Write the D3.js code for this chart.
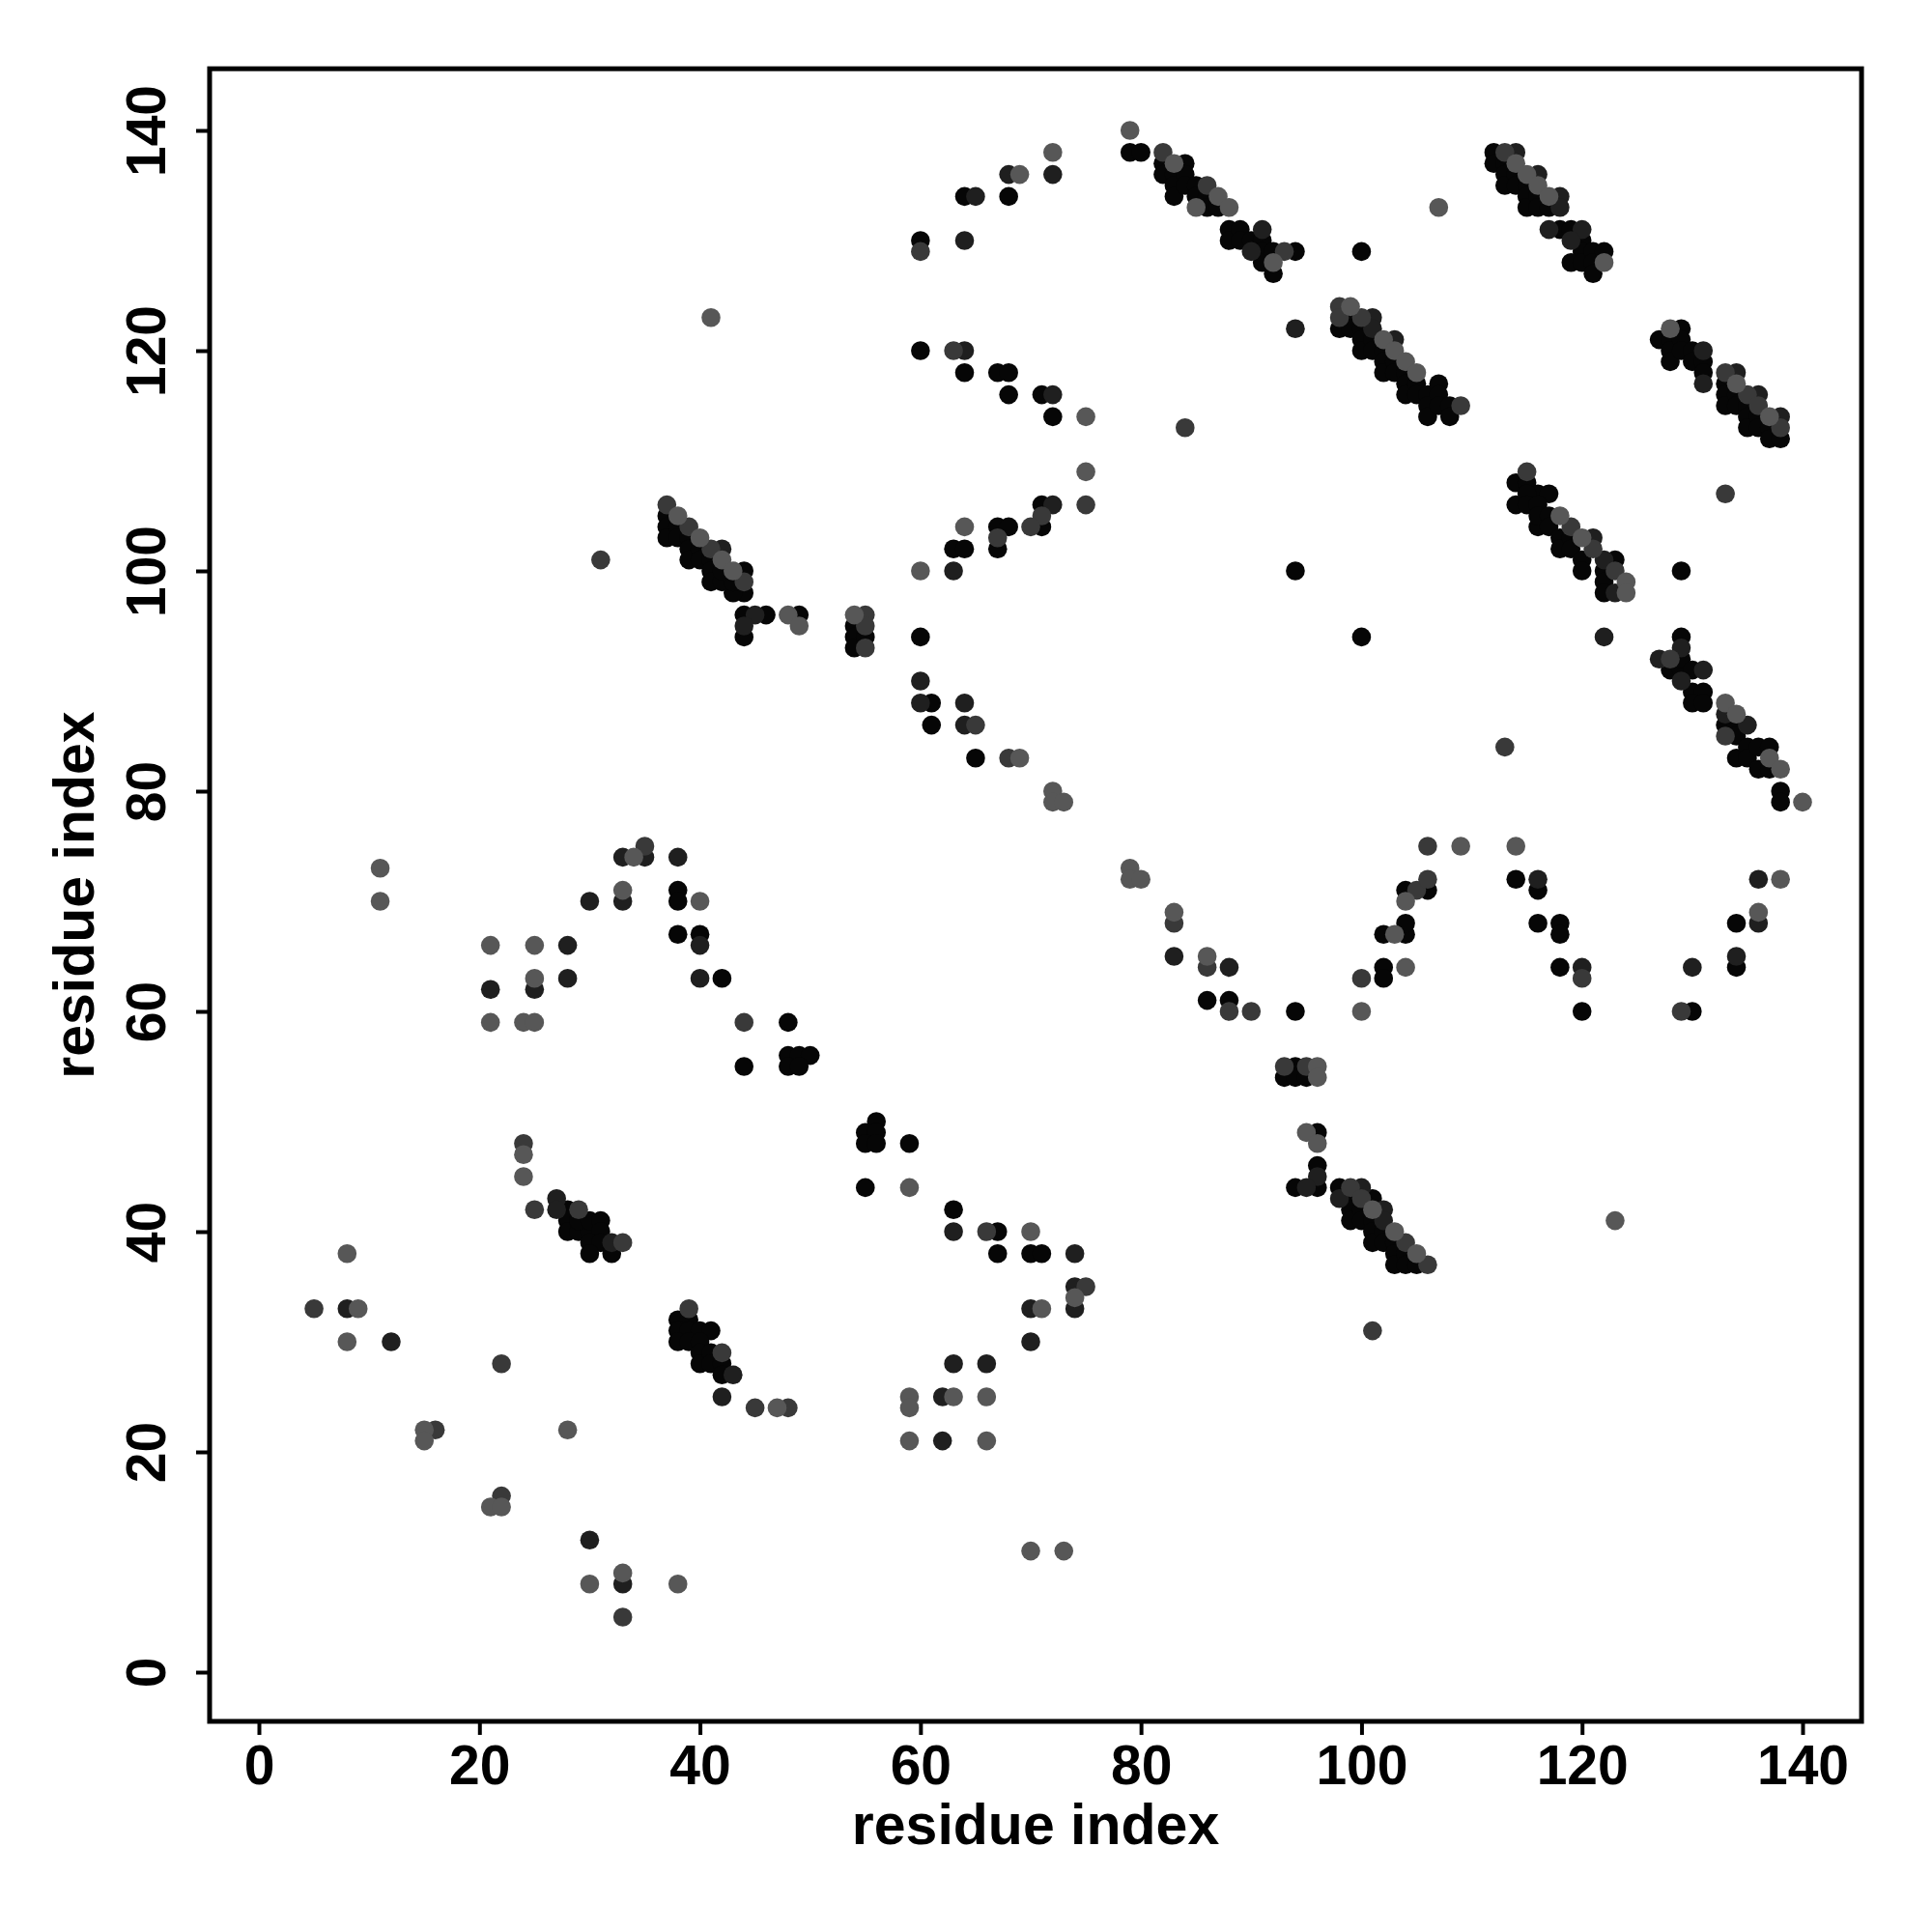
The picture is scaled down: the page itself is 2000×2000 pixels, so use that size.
<!DOCTYPE html>
<html>
<head>
<meta charset="utf-8">
<script src="https://cdn.jsdelivr.net/npm/d3@7"></script>
<style>
html,body{margin:0;padding:0;background:#fff;}
svg{display:block;}
text{font-family:"Liberation Sans","Helvetica","Arial",sans-serif;font-weight:bold;fill:#000;}
</style>
</head>
<body>
<svg id="chart" width="2000" height="2000"></svg>
<script>
// tick values
const xTicks = [0, 20, 40, 60, 80, 100, 120, 140];
const yTicks = [0, 20, 40, 60, 80, 100, 120, 140];
const xLabel = "residue index";
const yLabel = "residue index";

// contact points [i, j] grouped by shade (darkest first)
const shadeBlack = [
 [28,42],[28,41],[28,40],[29,40],[30,40],[29,41],[30,41],[31,41],[31,40],[30,39],[31,39],[30,38],[32,38],
 [56,50],[55,49],[56,49],[55,48],[56,48],[59,48],[55,44],[63,42],[67,40],[67,38],[70,38],[71,38],
 [38,32],[39,32],[38,31],[39,31],[40,31],[41,31],[38,30],[39,30],[40,30],[40,29],[40,28],[41,29],[41,28],[42,28],[42,27],
 [38,71],[38,70],[38,67],[40,67],[42,63],[48,59],[44,55],[48,56],[49,56],[50,56],[48,55],[49,55],
 [37,105],[37,104],[37,103],[38,104],[38,103],[39,103],[39,102],[39,101],[40,102],[40,101],[41,101],[41,100],[41,99],
 [44,100],[44,98],[43,98],[42,99],[43,99],[42,100],[44,96],[46,96],[44,94],[49,96],[54,95],[54,94],[54,93],[55,94],
 [79,138],[80,138],[68,134],[64,134],[60,130],[60,120],[64,118],[67,118],[68,118],[68,116],[71,116],[72,114],[71,106],
 [71,104],[67,104],[68,104],[67,102],[63,102],[64,102],[60,94],[61,88],[61,86],[65,83],
 [84,137],[82,137],[82,136],[83,136],[83,135],[83,134],[84,136],[84,135],[85,135],[85,134],[86,134],[86,133],[87,133],
 [88,131],[88,130],[89,131],[89,130],[90,130],[91,130],[91,129],[91,128],[92,129],[92,127],[94,129],
 [86,61],[88,61],[94,60],[93,54],[94,55],[94,54],[95,54],[102,64],[102,63],[102,67],[104,67],[104,68],[104,71],[106,71],
 [96,49],[96,46],[94,44],[96,44],[98,44],[99,43],[99,42],[99,41],[100,42],[100,41],[101,43],[101,41],[101,40],[101,39],
 [102,40],[102,39],[103,39],[103,38],[103,37],[104,38],[104,37],[105,37],
 [98,122],[99,123],[99,122],[100,122],[100,121],[100,120],[101,121],[101,120],[102,120],[102,119],[102,118],[103,119],
 [103,118],[104,118],[104,117],[104,116],[105,117],[105,116],[106,116],[106,115],[106,114],[107,117],[107,116],[107,115],[108,115],[108,114],
 [112,138],[112,137],[113,137],[113,136],[113,135],[114,136],[114,135],[115,135],[115,134],[115,133],[116,134],[116,133],[117,133],
 [118,131],[119,131],[120,130],[120,129],[119,128],[120,128],[121,129],[121,128],[121,127],[122,129],
 [127,121],[129,122],[128,121],[128,120],[128,119],[129,121],[129,120],[130,120],[130,119],[131,119],[131,118],[133,117],
 [133,116],[133,115],[134,116],[134,115],[135,115],[135,114],[135,113],[136,114],[136,113],[137,113],[137,112],[138,112],
 [114,108],[115,108],[114,106],[116,107],[117,107],[115,107],[115,106],[116,106],[116,104],[116,105],[117,105],[117,104],
 [118,103],[118,102],[119,103],[119,102],[120,101],[120,100],[123,101],[122,100],[122,99],[122,98],[129,100],[129,94],
 [128,91],[129,91],[129,92],[130,91],[130,89],[131,89],[130,88],[131,88],[133,86],[134,86],[134,85],[134,83],[135,84],
 [135,83],[136,84],[137,84],[136,82],[137,82],[138,80],[138,79],[114,72],[116,71],[116,68],[118,68],[118,67],[118,64],
 [120,60],[130,60],[134,68],[134,64],[94,100],[100,129],[100,94]
];
const shadeDark = [
 [27,43],[27,42],[32,39],[8,33],[12,30],[30,12],[33,8],
 [63,40],[74,38],[74,35],[74,33],[70,33],[70,30],[63,28],[66,28],[62,25],[62,21],[43,27],[42,25],
 [28,66],[21,62],[25,62],[28,63],[30,70],[33,74],[35,74],[33,70],[38,74],[40,66],[40,63],
 [42,102],[45,96],[44,95],
 [72,136],[68,136],[65,134],[64,130],[64,120],[72,116],[72,106],[63,100],[60,90],[60,88],[64,88],[64,86],
 [90,129],[91,131],[94,122],
 [83,65],[88,64],
 [96,45],[95,44],[98,43],[100,44],[102,42],[102,41],
 [101,123],[101,122],[103,121],
 [114,138],[116,136],[118,134],[118,133],[117,131],[120,131],[119,130],
 [131,120],[131,117],[134,118],[136,116],[138,114],
 [121,103],[122,101],[123,98],[122,94],[129,93],[127,92],[129,90],[131,91],[133,87],[135,86],[116,72],[120,64],
 [130,64],[134,65],[136,72],[136,68]
];
const shadeMid = [
 [24,48],[25,42],[29,42],[33,39],[5,33],[22,28],[16,22],[22,16],[33,5],
 [66,40],[75,35],[39,33],[42,29],[45,24],[48,24],
 [35,75],[44,59],
 [31,101],[37,106],[39,104],[41,102],[44,99],[55,96],[55,95],[55,93],
 [60,129],[63,120],[75,106],[71,105],[70,104],[67,103],[65,86],[68,83],
 [82,138],[86,135],[93,129],
 [83,68],[86,64],[88,60],[90,60],[93,55],[95,55],[100,63],[105,71],[106,72],[106,75],
 [99,44],[100,43],[104,39],[106,37],[101,31],
 [98,124],[98,123],[100,123],[109,115],
 [113,138],
 [133,118],[135,116],[136,115],[138,113],[133,107],
 [115,109],[119,104],[121,102],[123,100],[128,92],[133,85],[113,84],[120,63],[129,60],
 [84,113]
];
const shadeLight = [
 [24,47],[24,45],[8,38],[9,33],[8,30],[15,22],[15,21],[28,22],[21,15],[22,15],[30,8],[33,9],[38,8],
 [59,44],[70,40],[74,34],[71,33],[59,25],[59,24],[63,25],[66,25],[59,21],[66,21],[70,11],[73,11],[47,24],
 [11,73],[11,70],[21,66],[25,66],[25,63],[21,59],[24,59],[25,59],[34,74],[33,71],[40,70],
 [41,123],[38,105],[40,103],[42,101],[43,100],[48,96],[49,95],[54,96],
 [79,140],[72,138],[69,136],[75,114],[75,109],[64,104],[60,100],[69,83],[72,80],[72,79],[73,79],
 [83,137],[85,133],[87,134],[88,133],[92,128],
 [79,73],[79,72],[80,72],[83,69],[86,65],[96,55],[96,54],[100,60],[104,64],[103,67],[104,70],[109,75],
 [95,49],[96,48],[101,42],[103,40],[105,38],
 [99,124],[102,121],[103,120],[104,119],[105,118],
 [114,137],[115,136],[116,135],[117,134],[122,128],
 [128,122],[134,117],[137,114],
 [118,105],[120,103],[124,99],[124,98],[133,88],[134,87],[137,83],[138,82],[140,79],[114,75],[138,72],[136,69],
 [107,133],[123,41]
];

const groups = [
  {pts: shadeBlack, color: "#060606"},
  {pts: shadeDark,  color: "#1f1f1f"},
  {pts: shadeMid,   color: "#393939"},
  {pts: shadeLight, color: "#575757"}
];

const svg = d3.select("#chart");
const x = d3.scaleLinear().domain([0, 140]).range([268, 1866]);
const y = d3.scaleLinear().domain([0, 140]).range([1731, 135]);
const lo = -4.47, hiX = 145.35, hiY = 145.6;

// points
groups.forEach(g => {
  svg.append("g").selectAll("circle").data(g.pts).enter().append("circle")
    .attr("cx", d => x(d[0])).attr("cy", d => y(d[1])).attr("r", 9.8)
    .attr("fill", g.color);
});

// frame
svg.append("rect")
  .attr("x", x(lo)).attr("y", y(hiY))
  .attr("width", x(hiX) - x(lo)).attr("height", y(lo) - y(hiY))
  .attr("fill", "none").attr("stroke", "#000").attr("stroke-width", 5);

// x axis
const xAxis = d3.axisBottom(x).tickValues(xTicks).tickSize(14).tickPadding(10).tickFormat(d3.format("d"));
const gx = svg.append("g").attr("transform", `translate(0,${y(lo)})`).call(xAxis);
gx.select(".domain").remove();
gx.selectAll(".tick line").attr("stroke", "#000").attr("stroke-width", 4);
gx.selectAll(".tick text").attr("font-size", 57).attr("dy", "0.72em")
  .style("font-family", '"Liberation Sans", Arial, sans-serif').style("font-weight", "bold");

// y axis
const yAxis = d3.axisLeft(y).tickValues(yTicks).tickSize(14).tickPadding(0).tickFormat(d3.format("d"));
const gy = svg.append("g").attr("transform", `translate(${x(lo)},0)`).call(yAxis);
gy.select(".domain").remove();
gy.selectAll(".tick line").attr("stroke", "#000").attr("stroke-width", 4);
gy.selectAll(".tick text")
  .attr("x", null).attr("dy", null)
  .attr("text-anchor", "middle")
  .attr("transform", "translate(-46,0) rotate(-90)")
  .attr("font-size", 57)
  .style("font-family", '"Liberation Sans", Arial, sans-serif').style("font-weight", "bold");

// axis titles
svg.append("text").attr("x", (x(lo) + x(hiX)) / 2).attr("y", 1909)
  .attr("text-anchor", "middle").attr("font-size", 59).text(xLabel);
svg.append("text")
  .attr("transform", `translate(97,${(y(lo) + y(hiY)) / 2}) rotate(-90)`)
  .attr("text-anchor", "middle").attr("font-size", 59).text(yLabel);
</script>
</body>
</html>
